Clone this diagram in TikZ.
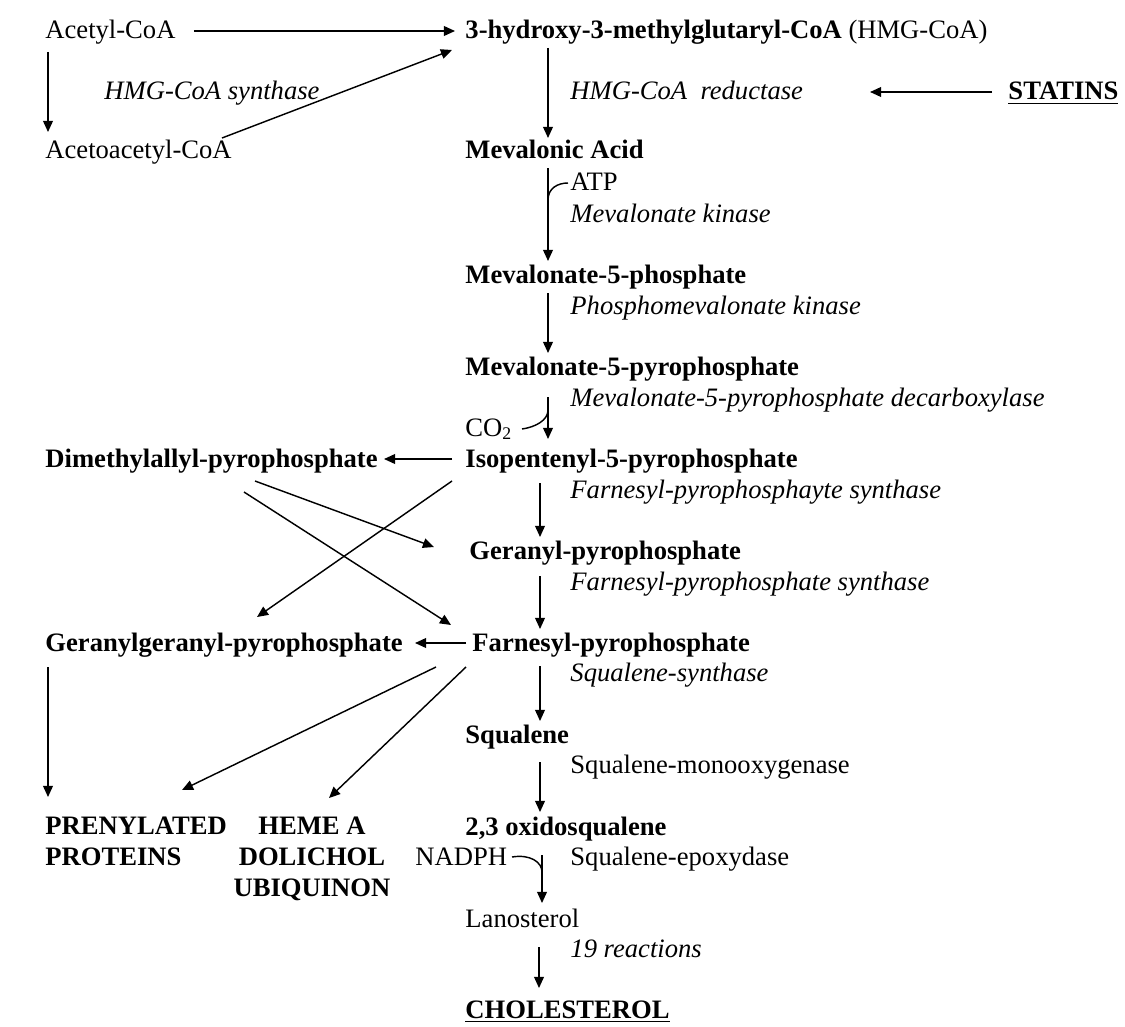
\documentclass[tikz,border=0pt]{standalone}
\usepackage{fontspec}
\setmainfont{Liberation Serif}
\usetikzlibrary{arrows.meta}
\newcommand{\pathSize}{\fontsize{12}{13.8}\selectfont}

\begin{document}
\begin{tikzpicture}[x=0.451pt, y=-0.451pt,
    every node/.style={inner sep=0pt, anchor=base west, font=\pathSize},
    cmpd/.style={font=\pathSize\bfseries},
    enz/.style={font=\pathSize\itshape},
    arr/.style={-{Triangle[length=5pt,width=4.4pt]}, line width=0.65pt},
    cofac/.style={line width=0.65pt}]

    \useasboundingbox (0,0) rectangle (1125,1026);

    %% compounds
    \node (acetyl) at (45,39) {Acetyl-CoA};
    \node[cmpd] (hmg) at (465,39) {3-hydroxy-3-methylglutaryl-CoA \textmd{(HMG-CoA)}};
    \node (acac) at (45,158) {Acetoacetyl-CoA};
    \node[cmpd] (mev) at (465,158) {Mevalonic Acid};
    \node[cmpd] (m5p) at (465,283) {Mevalonate-5-phosphate};
    \node[cmpd] (m5pp) at (465,375) {Mevalonate-5-pyrophosphate};
    \node[cmpd] (dmapp) at (45,467) {Dimethylallyl-pyrophosphate};
    \node[cmpd] (ipp) at (465,467) {Isopentenyl-5-pyrophosphate};
    \node[cmpd] (gpp) at (469,559) {Geranyl-pyrophosphate};
    \node[cmpd] (ggpp) at (45,651) {Geranylgeranyl-pyrophosphate};
    \node[cmpd] (fpp) at (472,651) {Farnesyl-pyrophosphate};
    \node[cmpd] (squal) at (465,743) {Squalene};
    \node[cmpd, align=left] (pren) at (45,865) {PRENYLATED\\PROTEINS}; % base = last line
    \node[cmpd, align=center, anchor=base] (heme) at (312,896) {HEME A\\DOLICHOL\\UBIQUINON};
    \node[cmpd] (oxsq) at (465,835) {2,3 oxidosqualene};
    \node (lano) at (465,927) {Lanosterol};
    \node[cmpd] (chol) at (465,1018) {\underline{CHOLESTEROL}};
    \node[cmpd] (statins) at (1008,100) {\underline{STATINS}};

    %% enzymes and cofactors
    \node[enz] (synth) at (104,100) {HMG-CoA synthase};
    \node[enz] (reduc) at (570,100) {HMG-CoA\ \ reductase};
    \node (atp) at (570,190) {ATP};
    \node[enz] (mevk) at (570,222) {Mevalonate kinase};
    \node[enz] (pmk) at (570,314) {Phosphomevalonate kinase};
    \node[enz] (dec) at (570,406) {Mevalonate-5-pyrophosphate decarboxylase};
    \node (co2) at (465,436) {CO\textsubscript{2}};
    \node[enz] (fpps1) at (570,498) {Farnesyl-pyrophosphayte synthase};
    \node[enz] (fpps2) at (570,590) {Farnesyl-pyrophosphate synthase};
    \node[enz] (sqs) at (570,681) {Squalene-synthase};
    \node (smo) at (570,773) {Squalene-monooxygenase};
    \node (nadph) at (415,865) {NADPH};
    \node (epox) at (570,865) {Squalene-epoxydase};
    \node[enz] (reac) at (570,957) {19 reactions};

    %% arrows
    \draw[arr] ([shift={(18,-8)}]acetyl.base east) -- ([shift={(-10,-8)}]hmg.base west);
    \draw[arr] ([shift={(3,13)}]acetyl.base west) -- ([shift={(3,-26)}]acac.base west);
    \draw[arr] ([shift={(177,-20)}]acac.base west) -- ([shift={(-13,11)}]hmg.base west);
    \draw[arr] ([shift={(-16,-8)}]statins.base west) -- ([shift={(300,-8)}]reduc.base west);
    \draw[arr] ([shift={(83,9)}]hmg.base west) -- ([shift={(83,-20)}]mev.base west);
    \draw[arr] ([shift={(83,10)}]mev.base west) -- ([shift={(83,-22)}]m5p.base west);
    \draw[arr] ([shift={(83,10)}]m5p.base west) -- ([shift={(83,-22)}]m5pp.base west);
    \draw[arr] ([shift={(83,22)}]m5pp.base west) -- ([shift={(83,-28)}]ipp.base west);
    \draw[arr] ([shift={(-13,-8)}]ipp.base west) -- ([shift={(339,-8)}]dmapp.base west);
    \draw[arr] ([shift={(75,16)}]ipp.base west) -- ([shift={(71,-22)}]gpp.base west);
    \draw[arr] ([shift={(210,14)}]dmapp.base west) -- ([shift={(-35,-12)}]gpp.base west);
    \draw[arr] ([shift={(199,25)}]dmapp.base west) -- ([shift={(-21,-26)}]fpp.base west);
    \draw[arr] ([shift={(-13,14)}]ipp.base west) -- ([shift={(212,-34)}]ggpp.base west);
    \draw[arr] ([shift={(71,17)}]gpp.base west) -- ([shift={(68,-22)}]fpp.base west);
    \draw[arr] ([shift={(-6,-8)}]fpp.base west) -- ([shift={(370,-8)}]ggpp.base west);
    \draw[arr] ([shift={(68,15)}]fpp.base west) -- ([shift={(75,-22)}]squal.base west);
    \draw[arr] ([shift={(3,16)}]ggpp.base west) -- ([shift={(3,-68)}]pren.base west);
    \draw[arr] ([shift={(-36,16)}]fpp.base west) -- ([shift={(137,-75)}]pren.base west);
    \draw[arr] ([shift={(-6,16)}]fpp.base west) -- ([shift={(17,-98)}]heme.base);
    \draw[arr] ([shift={(75,19)}]squal.base west) -- ([shift={(75,-23)}]oxsq.base west);
    \draw[arr] ([shift={(77,20)}]oxsq.base west) -- ([shift={(77,-24)}]lano.base west);
    \draw[arr] ([shift={(74,20)}]lano.base west) -- ([shift={(74,-30)}]chol.base west);

    % cofactor hooks
    \draw[cofac] ([shift={(83,42)}]mev.base west) .. controls +(0,-12) and +(-10,0) .. ([shift={(-2,-7)}]atp.base west);
    \draw[cofac] ([shift={(57,-7)}]co2.base west) .. controls +(14,-2) and +(0,10) .. ([shift={(83,35)}]m5pp.base west);
    \draw[cofac] ([shift={(97,-8)}]nadph.base west) .. controls +(18,-3) and +(0,-10) .. ([shift={(77,37)}]oxsq.base west);
\end{tikzpicture}
\end{document}
